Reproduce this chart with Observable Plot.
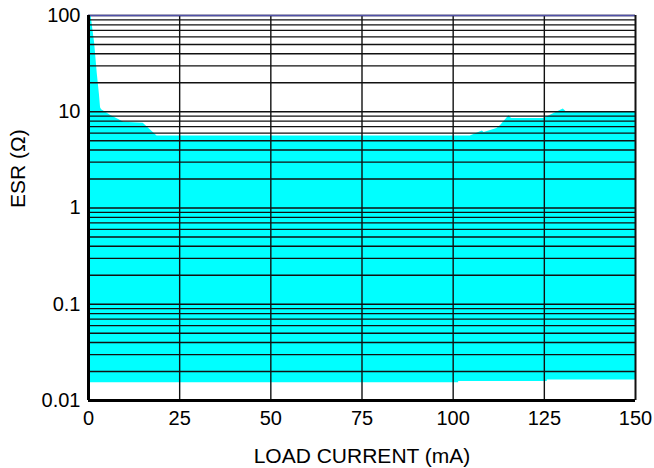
<!DOCTYPE html>
<html>
<head>
<meta charset="utf-8">
<script src="https://cdn.jsdelivr.net/npm/d3@7"></script>
<script src="https://cdn.jsdelivr.net/npm/@observablehq/plot@0.6"></script>
<style>
  html, body { margin: 0; padding: 0; background: #fff; }
</style>
</head>
<body>
<div id="chart"></div>
<script>
// Upper boundary of the stable ESR region (cyan)
const upperCurrent = [0, 0.7, 1.7, 2.4, 3.0, 3.3, 3.6, 6, 9.7, 15, 18.8, 104.7, 108, 108.5, 112, 113, 115.3, 116, 124.8, 130.2, 131, 150];
const upperESR     = [100, 100, 51, 25, 15, 11, 10.5, 9.2, 7.8, 7.6, 5.6, 5.6, 6.3, 6.1, 6.7, 7.2, 9.1, 8.5, 8.5, 10.7, 10.0, 10.0];
// Lower boundary of the stable ESR region (step)
const lowerCurrent = [0, 101.5, 125.8, 150];
const lowerESR     = [0.0153, 0.0158, 0.0163, 0.0163];
// Axis ticks
const xTicks = [0, 25, 50, 75, 100, 125, 150];
const yTicks = [0.01, 0.1, 1, 10, 100];
const yTickLabels = ["0.01", "0.1", "1", "10", "100"];
const xLabel = "LOAD CURRENT (mA)";
const yLabel = "ESR (\u03A9)";

const upper = upperCurrent.map((x, i) => ({x, y: upperESR[i]}));
const lower = lowerCurrent.map((x, i) => ({x, y: lowerESR[i]}));

const yGrid = [];
for (const d of [0.01, 0.1, 1, 10]) for (let m = 1; m <= 9; m++) yGrid.push(+(d * m).toPrecision(3));
yGrid.push(100);
const xGrid = xTicks.filter(v => v > 0 && v < 150);

const chart = Plot.plot({
  width: 654,
  height: 468,
  marginLeft: 88,
  marginRight: 19,
  marginTop: 15,
  marginBottom: 68,
  style: {fontFamily: "'Liberation Sans', Arial, sans-serif", fontSize: "20px", background: "#fff", color: "#000"},
  x: {domain: [0, 150]},
  y: {type: "log", domain: [0.01, 100]},
  marks: [
    Plot.areaY(upper, {x: "x", y1: 0.01, y2: "y", fill: "#00ffff", curve: "linear"}),
    Plot.areaY(lower, {x: "x", y1: 0.01, y2: "y", fill: "#ffffff", curve: "step-after"}),
    Plot.ruleY(yGrid, {stroke: "#111", strokeWidth: 1.4}),
    Plot.ruleX(xGrid, {stroke: "#111", strokeWidth: 1.4}),
    Plot.ruleY([100], {stroke: "#5050a8", strokeWidth: 1.5}),
    Plot.ruleX([150], {stroke: "#111", strokeWidth: 2}),
    Plot.ruleX([0], {stroke: "#000", strokeWidth: 3}),
    Plot.ruleY([0.01], {stroke: "#000", strokeWidth: 3}),
    Plot.axisX({ticks: xTicks, tickSize: 0, tickPadding: 10, fontSize: 20,
      label: null}),
    Plot.axisY({ticks: yTicks, tickSize: 0, tickPadding: 8, fontSize: 20,
      tickFormat: d => yTickLabels[yTicks.indexOf(d)] ?? "", label: null}),
    Plot.text([xLabel], {frameAnchor: "bottom", dy: 62, fontSize: 21, lineAnchor: "bottom"}),
    Plot.text([yLabel], {frameAnchor: "left", dx: -70, rotate: -90, fontSize: 21, lineAnchor: "middle"})
  ]
});
document.getElementById("chart").appendChild(chart);
</script>
</body>
</html>
